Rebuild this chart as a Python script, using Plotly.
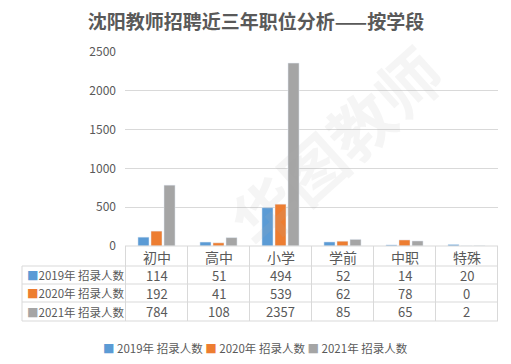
import plotly.graph_objects as go

categories = ["初中", "高中", "小学", "学前", "中职", "特殊"]
series_names = ["2019年 招录人数", "2020年 招录人数", "2021年 招录人数"]
v2019 = [114, 51, 494, 52, 14, 20]
v2020 = [192, 41, 539, 62, 78, 0]
v2021 = [784, 108, 2357, 85, 65, 2]
colors = ["#5B9BD5", "#ED7D31", "#A5A5A5"]
series_values = [v2019, v2020, v2021]

# page body has an 8px margin, so the figure is offset by 8px
OFF = 8
W, H = 511 - OFF, 364 - OFF
L, R, T, B = 125 - OFF, 13, 52 - OFF, 118
ph = H - T - B
pw = W - L - R

def py(p):  # p: reference pixel y
    return (246 - p) / ph

def px(p):  # p: reference pixel x
    return (p - 125) / pw

fig = go.Figure()
for name, vals, c in zip(series_names, series_values, colors):
    fig.add_trace(go.Bar(x=categories, y=vals, name=name, marker_color=c, showlegend=False))

FONT = "Noto Sans CJK SC, Microsoft YaHei, sans-serif"
txt = "#595959"
grid = "#D9D9D9"

shapes = []
for yy in [266, 284, 302, 321]:
    shapes.append(dict(type="line", xref="paper", yref="paper", x0=px(22), x1=1,
                       y0=py(yy), y1=py(yy), line=dict(color=grid, width=1)))
shapes.append(dict(type="line", xref="paper", yref="paper", x0=0, x1=1,
                   y0=0, y1=0, line=dict(color=grid, width=1)))
shapes.append(dict(type="line", xref="paper", yref="paper", x0=px(22), x1=px(22),
                   y0=py(266), y1=py(321), line=dict(color=grid, width=1)))
for i in range(len(categories) + 1):
    shapes.append(dict(type="line", xref="x", yref="paper", x0=i - 0.5, x1=i - 0.5,
                       y0=0, y1=py(321), line=dict(color=grid, width=1)))

annotations = []
annotations.append(dict(x=px(335), xref="paper", y=py(145), yref="paper", text="<b>华图教师</b>",
                        xanchor="center", yanchor="middle",
                        textangle=-42, showarrow=False, opacity=0.12,
                        font=dict(size=64, color="#B0B0B0", family=FONT)))
for c in categories:
    annotations.append(dict(x=c, xref="x", y=py(256.5), yref="paper", text=c,
                            xanchor="center", yanchor="middle",
                            showarrow=False, font=dict(size=14, color=txt, family=FONT)))
row_y = [275, 293, 311.5]
for name, vals, c, ry in zip(series_names, series_values, colors, row_y):
    annotations.append(dict(x=px(25), xref="paper", xanchor="left", y=py(ry), yref="paper",
                            yanchor="middle",
                            text=f"<span style='color:{c}'>■</span>{name}",
                            showarrow=False, font=dict(size=11.5, color=txt, family=FONT)))
    for cat, v in zip(categories, vals):
        annotations.append(dict(x=cat, xref="x", y=py(ry), yref="paper", text=str(v),
                                xanchor="center", yanchor="middle",
                                showarrow=False, font=dict(size=13, color=txt, family=FONT)))
legend_text = " ".join(f"<span style='color:{c}'>■</span> {n}" for n, c in zip(series_names, colors))
annotations.append(dict(x=px(255.5), xref="paper", y=py(348), yref="paper", text=legend_text,
                        xanchor="center", yanchor="middle",
                        showarrow=False, font=dict(size=11.5, color=txt, family=FONT)))

fig.update_layout(
    width=W, height=H,
    margin=dict(l=L, r=R, t=T, b=B),
    paper_bgcolor="white", plot_bgcolor="white",
    showlegend=False,
    title=dict(text="<b>沈阳教师招聘近三年职位分析——按学段</b>", x=(256 - OFF) / W,
               xanchor="center", y=1 - (22 - OFF) / H, yanchor="middle",
               font=dict(size=19, color="#595959", family=FONT)),
    barmode="group", bargap=0.37, bargroupgap=0.15,
    font=dict(family=FONT, color=txt),
    xaxis=dict(showticklabels=False, showgrid=False, zeroline=False, showline=False,
               ticks=""),
    yaxis=dict(range=[0, 2500], dtick=500, showgrid=True, gridcolor=grid, gridwidth=1,
               zeroline=False, showline=False, ticks="", ticklabelstandoff=8,
               tickfont=dict(size=12, color=txt, family=FONT)),
    shapes=shapes, annotations=annotations,
)

fig.write_html("out.html")
